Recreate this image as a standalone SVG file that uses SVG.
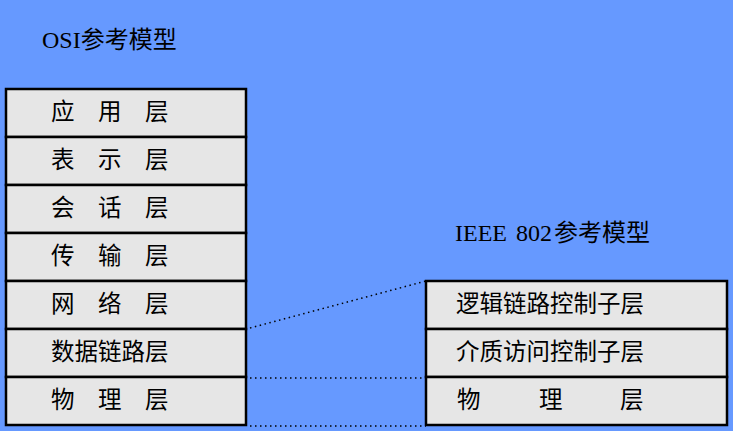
<svg xmlns="http://www.w3.org/2000/svg" width="733" height="431" viewBox="0 0 733 431">
<style>
.box{fill:#E6E6E6;stroke:#000;stroke-width:2.5}
.t{font-family:"Noto Sans CJK SC","Noto Sans CJK JP",sans-serif;font-size:23.5px;fill:#000}
.title{font-family:"Liberation Serif","Noto Sans CJK SC",serif;font-size:24px;fill:#000}
.cjk{font-family:"Noto Sans CJK SC",sans-serif}
.dot{stroke:#000;stroke-width:1.5;stroke-dasharray:1.5 3.5;fill:none}
</style>
<rect width="733" height="431" fill="#6699FF"/>
<text class="title" x="42" y="48">OSI<tspan class="cjk">参考模型</tspan></text>
<text class="title" x="455" y="241">IEEE <tspan dx="3">802</tspan><tspan class="cjk" dx="2">参考模型</tspan></text>
<g id="connectors">
<line class="dot" x1="250" y1="328" x2="426" y2="281"/>
<line class="dot" x1="250" y1="378" x2="426" y2="378"/>
<line class="dot" x1="250" y1="426" x2="426" y2="426"/>
</g>
<g id="osi-app"><rect class="box" x="6" y="89" width="240" height="48"/><text class="t" x="51" y="120">应　用　层</text></g>
<g id="osi-pres"><rect class="box" x="6" y="137" width="240" height="48"/><text class="t" x="51" y="168">表　示　层</text></g>
<g id="osi-sess"><rect class="box" x="6" y="185" width="240" height="48"/><text class="t" x="51" y="216">会　话　层</text></g>
<g id="osi-trans"><rect class="box" x="6" y="233" width="240" height="48"/><text class="t" x="51" y="264">传　输　层</text></g>
<g id="osi-net"><rect class="box" x="6" y="281" width="240" height="48"/><text class="t" x="51" y="312">网　络　层</text></g>
<g id="osi-link"><rect class="box" x="6" y="329" width="240" height="48"/><text class="t" x="51" y="360">数据链路层</text></g>
<g id="osi-phy"><rect class="box" x="6" y="377" width="240" height="48"/><text class="t" x="51" y="408">物　理　层</text></g>
<g id="ieee-llc"><rect class="box" x="426" y="281" width="301" height="48"/><text class="t" x="456" y="312">逻辑链路控制子层</text></g>
<g id="ieee-mac"><rect class="box" x="426" y="329" width="301" height="48"/><text class="t" x="456" y="360">介质访问控制子层</text></g>
<g id="ieee-phy"><rect class="box" x="426" y="377" width="301" height="48"/><text class="t" x="457 481 539 563 620" y="408">物 理 层</text></g>
</svg>
